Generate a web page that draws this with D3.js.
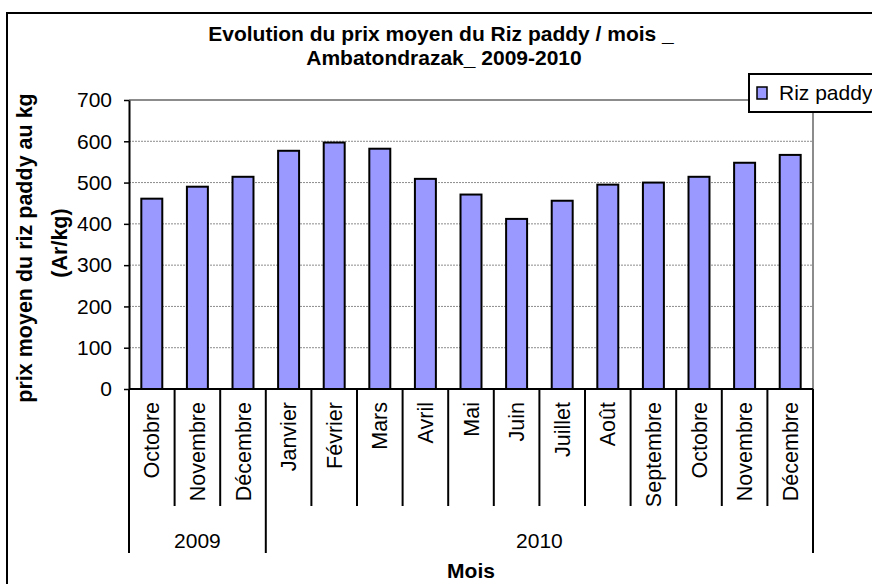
<!DOCTYPE html>
<html>
<head>
<meta charset="utf-8">
<script src="https://cdn.jsdelivr.net/npm/d3@7"></script>
<style>
  body { margin: 0; background: #fff; }
  svg { display: block; font-family: "Liberation Sans", Arial, sans-serif; }
</style>
</head>
<body>
<div id="chart"></div>
<script>
// data
var mois = ["Octobre", "Novembre", "Décembre", "Janvier", "Février", "Mars", "Avril", "Mai",
            "Juin", "Juillet", "Août", "Septembre", "Octobre", "Novembre", "Décembre"];
var annees = ["2009", "2009", "2009", "2010", "2010", "2010", "2010", "2010",
              "2010", "2010", "2010", "2010", "2010", "2010", "2010"];
var prix = [461, 490, 514, 577, 597, 582, 509, 471, 412, 456, 495, 500, 514, 548, 567];
var yTicks = [0, 100, 200, 300, 400, 500, 600, 700];
var serie = "Riz paddy";

var width = 872, height = 584;
var plotLeft = 129, plotRight = 813, plotTop = 100, plotBottom = 389;

var svg = d3.select("#chart").append("svg")
    .attr("width", width)
    .attr("height", height);

// outer chart frame (runs off the page on the right and bottom)
svg.append("rect")
    .attr("x", 7).attr("y", 13)
    .attr("width", 900).attr("height", 600)
    .attr("fill", "none")
    .attr("stroke", "#000")
    .attr("stroke-width", 2);

var keys = mois.map(function(m, i) { return i; });

var x = d3.scaleBand()
    .domain(keys)
    .range([plotLeft, plotRight])
    .paddingInner(0.54)
    .paddingOuter(0.27);

var y = d3.scaleLinear()
    .domain([0, 700])
    .range([plotBottom, plotTop]);

// gridlines
svg.append("g")
  .selectAll("line")
  .data(yTicks.filter(function(d) { return d > 0 && d < 700; }))
  .enter().append("line")
    .attr("x1", plotLeft).attr("x2", plotRight)
    .attr("y1", function(d) { return y(d); })
    .attr("y2", function(d) { return y(d); })
    .attr("stroke", "#8c8c8c")
    .attr("stroke-width", 1)
    .attr("stroke-dasharray", "2,1");

// plot area border (top + right)
svg.append("path")
    .attr("d", "M" + plotLeft + "," + y(700) + "H" + plotRight + "V" + plotBottom)
    .attr("fill", "none")
    .attr("stroke", "#8c8c8c")
    .attr("stroke-width", 2);

// bars
svg.append("g")
  .selectAll("rect")
  .data(prix)
  .enter().append("rect")
    .attr("x", function(d, i) { return x(i); })
    .attr("y", function(d) { return y(d); })
    .attr("width", x.bandwidth())
    .attr("height", function(d) { return y(0) - y(d); })
    .attr("fill", "#9999ff")
    .attr("stroke", "#000")
    .attr("stroke-width", 2);

// y axis
var yAxis = svg.append("g")
    .attr("transform", "translate(" + plotLeft + ",0)")
    .call(d3.axisLeft(y).tickValues(yTicks).tickSize(5).tickSizeOuter(0).tickPadding(12));
yAxis.select(".domain").attr("stroke", "#000").attr("stroke-width", 2);
yAxis.selectAll(".tick line").attr("stroke", "#000").attr("stroke-width", 1.5);
yAxis.selectAll(".tick text")
    .attr("font-size", "21px")
    .attr("font-family", "'Liberation Sans', Arial, sans-serif")
    .attr("fill", "#000");

// x axis base line
svg.append("line")
    .attr("x1", plotLeft).attr("x2", plotRight)
    .attr("y1", plotBottom).attr("y2", plotBottom)
    .attr("stroke", "#000")
    .attr("stroke-width", 2);

// category separators
var step = x.step();
var bounds = d3.range(mois.length + 1).map(function(i) { return plotLeft + i * step; });
svg.append("g")
  .selectAll("line")
  .data(bounds)
  .enter().append("line")
    .attr("x1", function(d) { return d; })
    .attr("x2", function(d) { return d; })
    .attr("y1", plotBottom)
    .attr("y2", function(d, i) {
      var yearEdge = i === 0 || i === mois.length || annees[i] !== annees[i - 1];
      return yearEdge ? 553 : 506;
    })
    .attr("stroke", "#000")
    .attr("stroke-width", 2);

// month labels
svg.append("g")
  .selectAll("text")
  .data(mois)
  .enter().append("text")
    .attr("transform", function(d, i) {
      return "translate(" + (x(i) + x.bandwidth() / 2) + ",402) rotate(-90)";
    })
    .attr("dy", "0.35em")
    .attr("text-anchor", "end")
    .attr("font-size", "21.5px")
    .text(function(d) { return d; });

// year labels
var groupes = d3.groups(keys, function(i) { return annees[i]; });
svg.append("g")
  .selectAll("text")
  .data(groupes)
  .enter().append("text")
    .attr("x", function(g) {
      var first = g[1][0], last = g[1][g[1].length - 1];
      return (bounds[first] + bounds[last + 1]) / 2;
    })
    .attr("y", 548)
    .attr("text-anchor", "middle")
    .attr("font-size", "21px")
    .text(function(g) { return g[0]; });

// axis titles
svg.append("text")
    .attr("x", (plotLeft + plotRight) / 2)
    .attr("y", 578)
    .attr("text-anchor", "middle")
    .attr("font-size", "21px")
    .attr("font-weight", "bold")
    .text("Mois");

var yTitle = svg.append("text")
    .attr("transform", "translate(32,248) rotate(-90)")
    .attr("text-anchor", "middle")
    .attr("font-size", "21.5px")
    .attr("font-weight", "bold");
yTitle.append("tspan").attr("x", 0).attr("dy", 0).text("prix moyen du riz paddy au kg");
yTitle.append("tspan").attr("x", 5).attr("dy", 35).text("(Ar/kg)");

// chart title
var title = svg.append("text")
    .attr("y", 41)
    .attr("text-anchor", "middle")
    .attr("font-size", "21px")
    .attr("font-weight", "bold");
title.append("tspan").attr("x", 441).attr("dy", 0).text("Evolution du prix moyen du Riz paddy / mois _");
title.append("tspan").attr("x", 444).attr("dy", 24).text("Ambatondrazak_ 2009-2010");

// legend
var legend = svg.append("g");
legend.append("rect")
    .attr("x", 749).attr("y", 74)
    .attr("width", 140).attr("height", 38)
    .attr("fill", "#fff")
    .attr("stroke", "#000")
    .attr("stroke-width", 2);
legend.append("rect")
    .attr("x", 757).attr("y", 87)
    .attr("width", 10).attr("height", 12)
    .attr("fill", "#9999ff")
    .attr("stroke", "#000")
    .attr("stroke-width", 1.5);
legend.append("text")
    .attr("x", 779).attr("y", 93)
    .attr("dy", "0.35em")
    .attr("font-size", "21px")
    .text(serie);
</script>
</body>
</html>
